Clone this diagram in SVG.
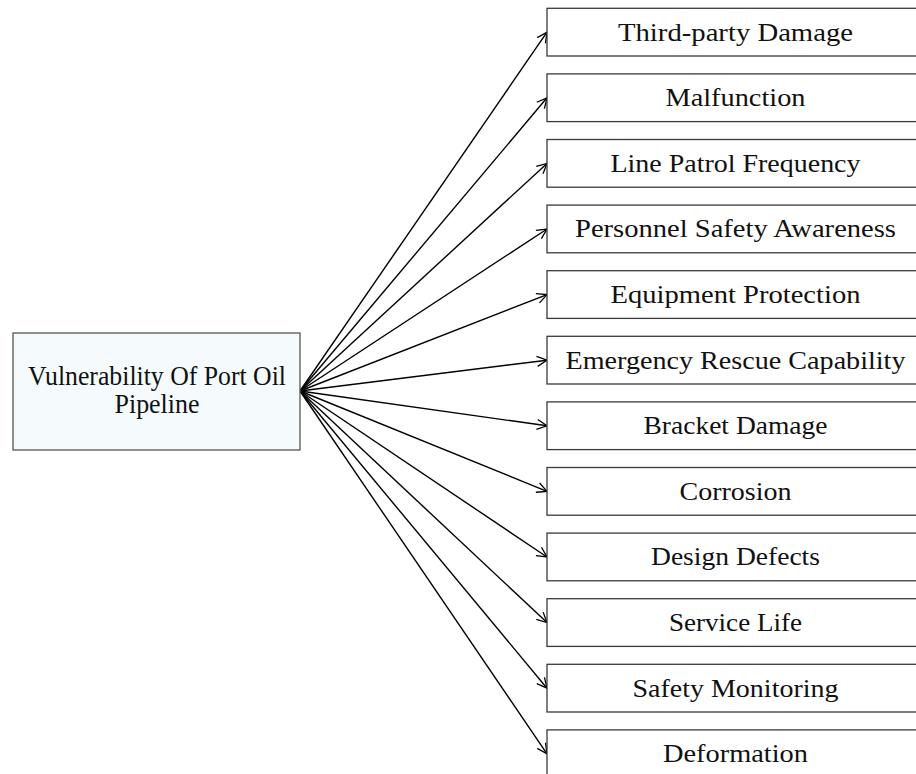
<svg xmlns="http://www.w3.org/2000/svg" width="916" height="774" viewBox="0 0 916 774">
<defs>
<marker id="arr" markerUnits="userSpaceOnUse" markerWidth="12" markerHeight="12" refX="10" refY="5" orient="auto" viewBox="0 0 12 10" overflow="visible">
<path d="M0,0 L10,5 L0,10" fill="none" stroke="#000" stroke-width="1.3"/>
</marker>
<style>
.box{fill:#fff;stroke:#3a3a3a;stroke-width:1.3}
.root{fill:#f5fbfd;stroke:#555;stroke-width:1.3}
.t{font-family:"Liberation Serif","Times New Roman",serif;font-size:24.5px;fill:#111;text-anchor:middle}
.rt{font-family:"Liberation Serif","Times New Roman",serif;font-size:27px;fill:#111;text-anchor:middle}
.c{stroke:#000;stroke-width:1.4;fill:none;marker-end:url(#arr)}
</style>
</defs>
<rect width="916" height="774" fill="#fff"/>
<g id="connectors">
<line class="c" x1="300" y1="391" x2="547" y2="32.2"/>
<line class="c" x1="300" y1="391" x2="547" y2="97.8"/>
<line class="c" x1="300" y1="391" x2="547" y2="163.4"/>
<line class="c" x1="300" y1="391" x2="547" y2="229"/>
<line class="c" x1="300" y1="391" x2="547" y2="294.6"/>
<line class="c" x1="300" y1="391" x2="547" y2="360.2"/>
<line class="c" x1="300" y1="391" x2="547" y2="425.8"/>
<line class="c" x1="300" y1="391" x2="547" y2="491.4"/>
<line class="c" x1="300" y1="391" x2="547" y2="557"/>
<line class="c" x1="300" y1="391" x2="547" y2="622.6"/>
<line class="c" x1="300" y1="391" x2="547" y2="688.2"/>
<line class="c" x1="300" y1="391" x2="547" y2="753.8"/>
</g>
<g id="root">
<rect class="root" x="13" y="333" width="287" height="117"/>
<text class="rt" x="157" y="385" textLength="258" lengthAdjust="spacingAndGlyphs">Vulnerability Of Port Oil</text>
<text class="rt" x="157" y="413" textLength="85" lengthAdjust="spacingAndGlyphs">Pipeline</text>
</g>
<g id="n1"><rect class="box" x="547" y="8.3" width="380" height="47.7"/><text class="t" x="735.5" y="41" textLength="235" lengthAdjust="spacingAndGlyphs">Third-party Damage</text></g>
<g id="n2"><rect class="box" x="547" y="73.9" width="380" height="47.7"/><text class="t" x="735.5" y="106.3" textLength="140" lengthAdjust="spacingAndGlyphs">Malfunction</text></g>
<g id="n3"><rect class="box" x="547" y="139.5" width="380" height="47.7"/><text class="t" x="735.5" y="171.7" textLength="250" lengthAdjust="spacingAndGlyphs">Line Patrol Frequency</text></g>
<g id="n4"><rect class="box" x="547" y="205.1" width="380" height="47.7"/><text class="t" x="735.5" y="237.3" textLength="321" lengthAdjust="spacingAndGlyphs">Personnel Safety Awareness</text></g>
<g id="n5"><rect class="box" x="547" y="270.7" width="380" height="47.7"/><text class="t" x="735.5" y="302.9" textLength="250" lengthAdjust="spacingAndGlyphs">Equipment Protection</text></g>
<g id="n6"><rect class="box" x="547" y="336.3" width="380" height="47.7"/><text class="t" x="735.5" y="368.5" textLength="340" lengthAdjust="spacingAndGlyphs">Emergency Rescue Capability</text></g>
<g id="n7"><rect class="box" x="547" y="401.9" width="380" height="47.7"/><text class="t" x="735.5" y="434.1" textLength="184" lengthAdjust="spacingAndGlyphs">Bracket Damage</text></g>
<g id="n8"><rect class="box" x="547" y="467.5" width="380" height="47.7"/><text class="t" x="735.5" y="499.7" textLength="112" lengthAdjust="spacingAndGlyphs">Corrosion</text></g>
<g id="n9"><rect class="box" x="547" y="533.1" width="380" height="47.7"/><text class="t" x="735.5" y="565.3" textLength="169" lengthAdjust="spacingAndGlyphs">Design Defects</text></g>
<g id="n10"><rect class="box" x="547" y="598.7" width="380" height="47.7"/><text class="t" x="735.5" y="630.9" textLength="133" lengthAdjust="spacingAndGlyphs">Service Life</text></g>
<g id="n11"><rect class="box" x="547" y="664.3" width="380" height="47.7"/><text class="t" x="735.5" y="696.5" textLength="206" lengthAdjust="spacingAndGlyphs">Safety Monitoring</text></g>
<g id="n12"><rect class="box" x="547" y="729.9" width="380" height="47.7"/><text class="t" x="735.5" y="762.1" textLength="145" lengthAdjust="spacingAndGlyphs">Deformation</text></g>
</svg>
